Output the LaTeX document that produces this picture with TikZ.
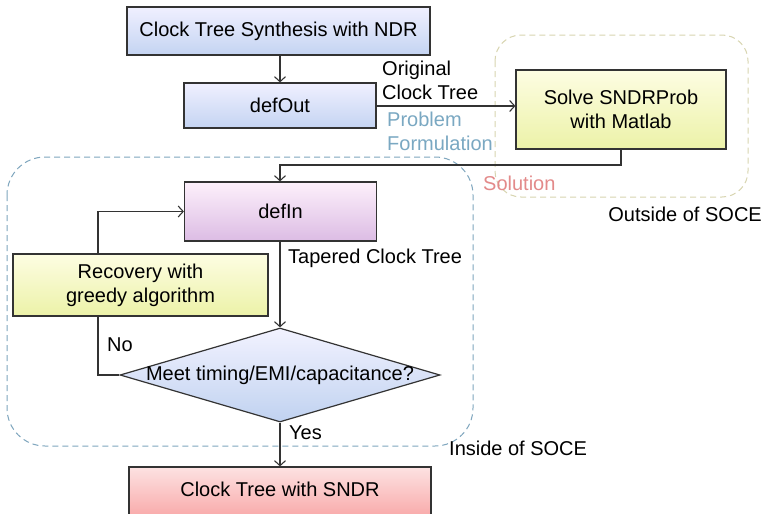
\documentclass[tikz,border=0pt]{standalone}
\usepackage{fontspec}
\setmainfont{Liberation Sans}
\usetikzlibrary{shapes.geometric,arrows.meta,calc}
\definecolor{edge}{HTML}{333333}
\definecolor{probc}{HTML}{7AA8C2}
\definecolor{solc}{HTML}{E38A8A}
\definecolor{inframe}{HTML}{7FA6BE}
\definecolor{outframe}{HTML}{D8D5B0}
\begin{document}
\begin{tikzpicture}[x=1pt,y=-1pt,
  font=\fontsize{20}{24}\selectfont,
  box/.style={draw=edge,line width=1.2pt,rectangle,inner sep=0pt,align=center},
  bluebox/.style={box,top color=blue!6!white,bottom color={rgb,255:red,196;green,212;blue,242}},
  pinkbox/.style={box,top color={rgb,255:red,253;green,240;blue,251},bottom color={rgb,255:red,220;green,188;blue,228}},
  yellowbox/.style={box,top color={rgb,255:red,253;green,253;blue,226},bottom color={rgb,255:red,236;green,242;blue,168}},
  redbox/.style={box,top color={rgb,255:red,253;green,226;blue,226},bottom color={rgb,255:red,248;green,166;blue,166}},
  conn/.style={draw=edge,line width=1.3pt},
  arr/.style={conn,-{Straight Barb[length=5pt,width=11pt,line width=1.1pt]}},
  frame/.style={dashed,dash pattern=on 6pt off 4pt,line width=1pt},
  lbl/.style={inner sep=0pt,align=left}
]
\useasboundingbox (0,0) rectangle (764,514);
\fill[white] (0,0) rectangle (764,514);

% frames
\draw[frame,draw=inframe,rounded corners=38pt] (7,157) rectangle (473,446);
\draw[frame,draw=outframe,rounded corners=26pt] (495,35) rectangle (748,197);

% nodes
\node[bluebox,minimum width=303pt,minimum height=48pt] (cts) at (278.5,31) {Clock Tree Synthesis with NDR};
\node[bluebox,minimum width=192pt,minimum height=45pt] (defout) at (280,105.5) {defOut};
\node[yellowbox,minimum width=210pt,minimum height=79pt] (solve) at (621,109.5) {Solve SNDRProb\\with Matlab};
\node[pinkbox,minimum width=192pt,minimum height=59pt] (defin) at (280.5,211.5) {defIn};
\node[yellowbox,minimum width=255pt,minimum height=62pt] (rec) at (140.5,285) {Recovery with\\greedy algorithm};
\node[draw=edge,line width=1.2pt,diamond,aspect=3.4,inner sep=0pt,minimum width=320pt,minimum height=94pt,
      top color=blue!5!white,bottom color={rgb,255:red,192;green,210;blue,240}] (dia) at (280,375)
      {\makebox[0pt]{Meet timing/EMI/capacitance?}};
\node[redbox,minimum width=302pt,minimum height=53pt] (fin) at (280,493.5) {\raisebox{8pt}{Clock Tree with SNDR}};

% labels
\node[lbl,anchor=west] (orig) at (382,80) {Original\\Clock Tree};
\node[lbl,anchor=west,text=probc] (prob) at (387,131) {Problem\\Formulation};
\node[lbl,anchor=west,text=solc] (sol) at (483,183) {Solution};
\node[lbl,anchor=east] (outl) at (762,214) {Outside of SOCE};
\node[lbl,anchor=west] (tap) at (288,258) {Tapered Clock Tree};
\node[lbl,anchor=west] (no) at (107,345) {No};
\node[lbl,anchor=west] (yes) at (289,433) {Yes};
\node[lbl,anchor=west] (inl) at (449,448) {Inside of SOCE};

% connectors
\coordinate (nx) at (98,375);
\coordinate (sx) at (621,165);
\draw[arr] (cts.south -| defout.north) -- (defout.north);
\draw[arr] (defout.east |- 0,106) -- (solve.west |- 0,106);
\draw[arr] (solve.south) -- (sx) -| (dia.north |- defin.north);
\draw[arr] (dia.north |- defin.south) -- (dia.north);
\draw[conn] (dia.west) -- (nx) -- (nx |- rec.south);
\draw[arr] (nx |- rec.north) |- (defin.west);
\draw[arr] (dia.south) -- (fin.north);
\end{tikzpicture}
\end{document}
